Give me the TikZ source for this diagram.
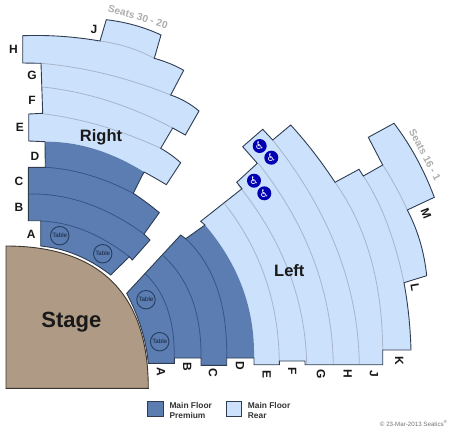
\documentclass[tikz,border=0pt]{standalone}
\usepackage{fontspec}
\usetikzlibrary{calc}
\setmainfont{Liberation Sans}
\newfontfamily\wcfont{DejaVu Sans}
\definecolor{lightblue}{HTML}{CCE1FB}
\definecolor{darkblue}{HTML}{5B7DB1}
\definecolor{stagebrown}{HTML}{AE9A85}
\definecolor{edgeline}{HTML}{2E3D52}
\definecolor{lightrow}{HTML}{A6B5CB}
\definecolor{darkrow}{HTML}{36558A}
\tikzset{
  x=1pt,y=-1pt,
  q/.style={to path={.. controls ($(\tikztostart)!0.6667!(#1)$) and ($(\tikztotarget)!0.6667!(#1)$) .. (\tikztotarget)}},
  outline/.style={draw=edgeline,line width=0.9pt,line join=miter},
  lightrowline/.style={draw=lightrow,line width=0.8pt},
  darkrowline/.style={draw=darkrow,line width=0.8pt},
  rowlabel/.style={font=\fontsize{12}{12}\selectfont\bfseries,text=black!90,inner sep=0pt},
  sectionlabel/.style={font=\fontsize{16.5}{16.5}\selectfont\bfseries,text=black!90,inner sep=0pt},
  seatlabel/.style={font=\fontsize{10.2}{10.2}\selectfont\bfseries,text=black!32,inner sep=0pt},
  tablecircle/.style={circle,draw=darkrow!70!black,line width=0.9pt,minimum size=18.5pt,inner sep=0pt,text=darkrow!40!black,font=\fontsize{6.2}{6.2}\selectfont},
  wheel/.style={circle,fill=blue!70!black,minimum size=14pt,inner sep=0pt,text=white,font=\wcfont\fontsize{10.5}{10.5}\selectfont},
  legendbox/.style={draw=edgeline,line width=0.9pt},
  legendtext/.style={font=\fontsize{8.4}{10}\selectfont\bfseries,text=black!80,align=left,anchor=west,inner sep=0pt}
}
\begin{document}
\begin{tikzpicture}
\useasboundingbox (0,0) rectangle (450,429);
% Stage
\fill[stagebrown,draw=black!65!stagebrown,line width=0.9pt] (6,246) .. controls (100,246) and (148.3,294) .. (148.3,388.3) -- (6,388.3) -- cycle;
% Right block fills
\fill[lightblue] (22.7,35.7) to[q={61.3,34.3}] (100,41) -- (106.3,19.7) to[q={136.3,23.3}] (161,35) -- (154.3,58.3) to[q={171,63}] (183.7,70.3) -- (170.7,95) to[q={186.5,100.4}] (199,111) -- (185.3,135) -- (172.7,128) -- (160.7,148.3) to[q={171.5,154.5}] (180.7,162.7) -- (166.3,184.7) to[q={154.5,177.5}] (144,172) to[q={94.5,141.2}] (45,141.7) -- (28.7,141) -- (28.7,114) -- (42.7,113.3) -- (41,63.3) -- (22.7,63) -- cycle;
\fill[darkblue] (45,141.7) to[q={94.5,141.2}] (144,172) -- (133.3,193.3) to[q={147,202.3}] (159.3,212.7) -- (144,234) -- (150,240) -- (132.3,260) -- (129.3,256.7) -- (110.7,275) to[q={77.7,249.5}] (40.7,246) -- (40.7,220.7) -- (28.3,220.7) -- (28.3,167.3) -- (45.3,167.3) -- cycle;
% Right rows
\draw[lightrowline] (100,41) to[q={129.5,45}] (154.3,58.3);
\draw[lightrowline] (41,63.3) to[q={105.8,68.9}] (170.7,95);
\draw[lightrowline] (42.7,87) to[q={107.7,93.9}] (172.7,128);
\draw[lightrowline] (42.7,113.7) to[q={101.7,121}] (160.7,148.3);
\draw[darkrowline] (45.3,167.3) to[q={88.3,169.7}] (133.3,193.3);
\draw[darkrowline] (28.3,194) to[q={87.2,192.6}] (144,234);
\draw[darkrowline] (40.7,221) to[q={85,222.5}] (129.3,256.7);
% Right outline
\draw[outline] (22.7,35.7) to[q={61.3,34.3}] (100,41) -- (106.3,19.7) to[q={136.3,23.3}] (161,35) -- (154.3,58.3) to[q={171,63}] (183.7,70.3) -- (170.7,95) to[q={186.5,100.4}] (199,111) -- (185.3,135) -- (172.7,128) -- (160.7,148.3) to[q={171.5,154.5}] (180.7,162.7) -- (166.3,184.7) to[q={154.5,177.5}] (144,172) -- (133.3,193.3) to[q={147,202.3}] (159.3,212.7) -- (144,234) -- (150,240) -- (132.3,260) -- (129.3,256.7) -- (110.7,275) to[q={77.7,249.5}] (40.7,246) -- (40.7,220.7) -- (28.3,220.7) -- (28.3,167.3) -- (45.3,167.3) -- (45,141.7) -- (28.7,141) -- (28.7,114) -- (42.7,113.3) -- (41,63.3) -- (22.7,63) -- cycle;
% Left block fills
\fill[lightblue] (200.7,221.3) -- (242,188.7) -- (236.7,182.3) -- (257.3,163.3) -- (242.7,146.7) -- (262.7,129.3) -- (272.7,140) -- (290.7,125) to[q={314.5,151}] (335,182.3) -- (359,169.3) -- (363.3,176) -- (382.7,165) -- (368.3,137.3) -- (394,123.3) to[q={419,156.3}] (434.3,197.3) -- (407.3,210) to[q={423,240}] (426.7,275.7) -- (404,282.7) to[q={410,315}] (411,350) -- (382.7,350) -- (382.7,364.7) -- (305,364.7) -- (305,361) -- (279.3,361) -- (279.3,364.7) -- (254,364.7) -- (254,358) to[q={255.5,284}] (205,225) -- cycle;
\fill[darkblue] (126.7,293.3) -- (180.7,235) -- (185.7,238.7) -- (205,225) to[q={255.5,284}] (254,358) -- (226.7,358) -- (226.7,365.3) -- (201,365.3) -- (201,358) -- (174.3,358) -- (174.3,363.3) -- (148.3,363.3) to[q={145.1,328.3}] (126.7,293.3) -- cycle;
% Left rows
\draw[darkrowline] (145,273.5) to[q={175,301.4}] (174.3,358);
\draw[darkrowline] (163.3,255.7) to[q={202,291.7}] (201,358);
\draw[darkrowline] (185.7,238.7) to[q={228,278}] (226.7,358);
\draw[lightrowline] (225,204.3) to[q={278,272}] (279.3,361);
\draw[lightrowline] (238.3,185) to[q={305,268}] (306.7,364.7);
\draw[lightrowline] (258.3,163.3) to[q={331.5,256}] (333.3,364.7);
\draw[lightrowline] (272.7,140) to[q={358,247}] (359.3,364.7);
\draw[lightrowline] (335,182.3) to[q={382,248}] (382.7,350);
\draw[lightrowline] (363.3,176) to[q={390,216}] (404,282.7);
\draw[lightrowline] (382.7,165) to[q={396.5,186}] (407.3,210);
% Left outline
\draw[outline] (126.7,293.3) -- (180.7,235) -- (185.7,238.7) -- (205,225) -- (200.7,221.3) -- (242,188.7) -- (236.7,182.3) -- (257.3,163.3) -- (242.7,146.7) -- (262.7,129.3) -- (272.7,140) -- (290.7,125) to[q={314.5,151}] (335,182.3) -- (359,169.3) -- (363.3,176) -- (382.7,165) -- (368.3,137.3) -- (394,123.3) to[q={419,156.3}] (434.3,197.3) -- (407.3,210) to[q={423,240}] (426.7,275.7) -- (404,282.7) to[q={410,315}] (411,350) -- (382.7,350) -- (382.7,364.7) -- (305,364.7) -- (305,361) -- (279.3,361) -- (279.3,364.7) -- (254,364.7) -- (254,358) -- (226.7,358) -- (226.7,365.3) -- (201,365.3) -- (201,358) -- (174.3,358) -- (174.3,363.3) -- (148.3,363.3) to[q={145.1,328.3}] (126.7,293.3) -- cycle;
% Tables
\node[tablecircle] (t1) at (59.7,235.7) {Table};
\node[tablecircle] (t2) at (102.7,253.7) {Table};
\node[tablecircle] (t3) at (146,299.7) {Table};
\node[tablecircle] (t4) at (159.7,341.7) {Table};
% Wheelchair
\node[wheel] (w1) at (259.7,146) {♿};
\node[wheel] (w2) at (271.3,157.7) {♿};
\node[wheel] (w3) at (254,180.7) {♿};
\node[wheel] (w4) at (264.3,193.3) {♿};
% Section labels
\node[sectionlabel] (right) at (101,137.3) {Right};
\node[sectionlabel] (left) at (289.3,271) {Left};
\node[font=\fontsize{22}{22}\selectfont\bfseries,text=black!90,inner sep=0pt] (stage) at (71.3,321.7) {Stage};
\node[seatlabel,rotate=-17] (s1) at (138,16.7) {Seats 30 - 20};
\node[seatlabel,rotate=-62] (s2) at (425,155) {Seats 16 - 1};
% Row labels, right block
\node[rowlabel] (rH) at (13.5,49) {H};
\node[rowlabel] (rJ) at (94,29) {J};
\node[rowlabel] (rG) at (32,75.5) {G};
\node[rowlabel] (rF) at (32,100.5) {F};
\node[rowlabel] (rE) at (20,127.5) {E};
\node[rowlabel] (rD) at (35,156) {D};
\node[rowlabel] (rC) at (19,181) {C};
\node[rowlabel] (rB) at (19,207.5) {B};
\node[rowlabel] (rA) at (31.3,234.3) {A};
% Row labels, left block
\node[rowlabel,rotate=-90] (lA) at (161,371.7) {A};
\node[rowlabel,rotate=-90] (lB) at (187.3,366.7) {B};
\node[rowlabel,rotate=-90] (lC) at (213,373.3) {C};
\node[rowlabel,rotate=-90] (lD) at (240,365.7) {D};
\node[rowlabel,rotate=-90] (lE) at (266.7,374) {E};
\node[rowlabel,rotate=-90] (lF) at (292.3,371.3) {F};
\node[rowlabel,rotate=-90] (lG) at (321,374) {G};
\node[rowlabel,rotate=-90] (lH) at (347.7,374.3) {H};
\node[rowlabel,rotate=-90] (lJ) at (374,374) {J};
\node[rowlabel,rotate=-90] (lK) at (399.3,360.7) {K};
\node[rowlabel,rotate=-80] (lL) at (415,287.7) {L};
\node[rowlabel,rotate=-68] (lM) at (426,213.3) {M};
% Legend
\path[fill=darkblue,legendbox] (147.7,401) rectangle (163,416);
\node[legendtext] (lg1) at (169.3,410) {Main Floor\\Premium};
\path[fill=lightblue,legendbox] (226,401) rectangle (241.7,416);
\node[legendtext] (lg2) at (247.7,410) {Main Floor\\Rear};
\node[font=\fontsize{6.2}{6.2}\selectfont,text=black!55,anchor=east,inner sep=0pt] (copy) at (447.7,423.3) {© 23-Mar-2013 Seatics\textsuperscript{®}};
\end{tikzpicture}
\end{document}
